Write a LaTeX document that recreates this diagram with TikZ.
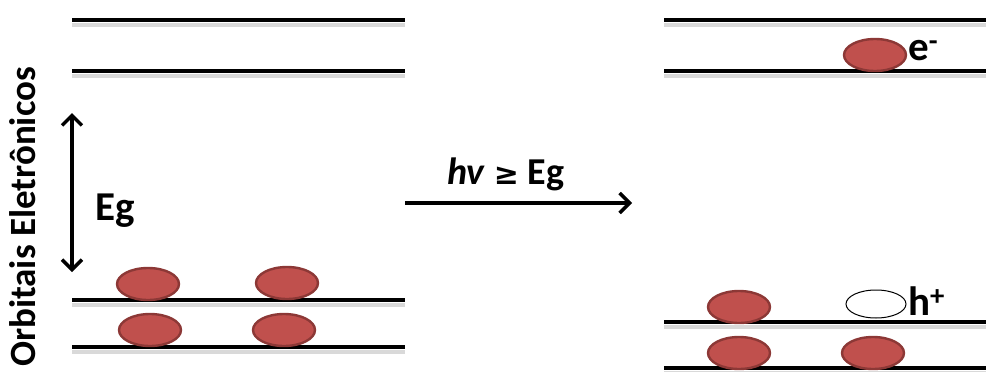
\documentclass[tikz,border=0pt]{standalone}
\usepackage{fontspec}
\setmainfont{Carlito}
\newfontfamily\symfont{DejaVu Sans}
\usetikzlibrary{shapes.geometric,arrows.meta}
\begin{document}
\begin{tikzpicture}[x=1pt,y=-1pt,
  level/.style={line width=4pt,black},
  shadowline/.style={line width=4pt,black!15},
  elec/.style={ellipse,draw={rgb,255:red,140;green,56;blue,54},line width=2.4pt,fill={rgb,255:red,192;green,80;blue,77},minimum width=62pt,minimum height=32pt,inner sep=0pt},
  hole/.style={ellipse,draw=black,line width=1pt,fill=white,minimum width=60pt,minimum height=28pt,inner sep=0pt},
  lbl/.style={font=\bfseries\fontsize{41}{41}\selectfont,inner sep=0pt},
  arr/.style={line width=3.5pt,-{Straight Barb[length=10pt,width=20pt,line width=3.5pt]}}
]
\useasboundingbox (0,0) rectangle (986,372);
% left levels
\foreach \y/\n in {20/la,71/lb,300/lc,347/ld}{
  \draw[shadowline] (72,\y+5) -- (405,\y+5);
  \coordinate (\n1) at (72,\y); \coordinate (\n2) at (405,\y);
  \draw[level] (\n1) -- (\n2);
}
% right levels
\foreach \y/\n in {20/ra,71/rb,322/rc,368/rd}{
  \draw[shadowline] (664,\y+5) -- (986,\y+5);
  \coordinate (\n1) at (664,\y); \coordinate (\n2) at (986,\y);
  \draw[level] (\n1) -- (\n2);
}
% vertical label
\node[rotate=90,anchor=base,font=\bfseries\fontsize{37}{37}\selectfont,inner sep=0pt] (ylab) at (35,217) {Orbitais Eletrônicos};
% double arrow
\coordinate (egt) at (72,113);
\coordinate (egb) at (72,272);
\draw[line width=3.5pt,{Straight Barb[length=10pt,width=20pt,line width=3.5pt]}-{Straight Barb[length=10pt,width=20pt,line width=3.5pt]}] (egt) -- (egb);
\node[lbl,anchor=base west] (eg) at (95,220) {Eg};
% excitation arrow
\coordinate (as) at (405,203);
\coordinate (ae) at (632,203);
\draw[arr] (as) -- (ae);
\node[lbl,anchor=base west,font=\bfseries\fontsize{38}{38}\selectfont] (hv) at (447,184) {\textit{hv} {\symfont\fontsize{30}{30}\selectfont ≥} Eg};
% left electrons
\node[elec] (e1) at (148,284) {};
\node[elec] (e2) at (287,283) {};
\node[elec] (e3) at (150,330) {};
\node[elec] (e4) at (284,330) {};
% right electrons
\node[elec] (e5) at (875,55) {};
\node[lbl,anchor=base west] (em) at (908,60) {e\textsuperscript{-}};
\node[elec] (e6) at (739,307) {};
\node[elec] (e7) at (739,353) {};
\node[elec] (e8) at (873,353) {};
\node[hole] (h) at (876,304) {};
\node[lbl,anchor=base west] (hp) at (908,315) {h\textsuperscript{+}};
\end{tikzpicture}
\end{document}
